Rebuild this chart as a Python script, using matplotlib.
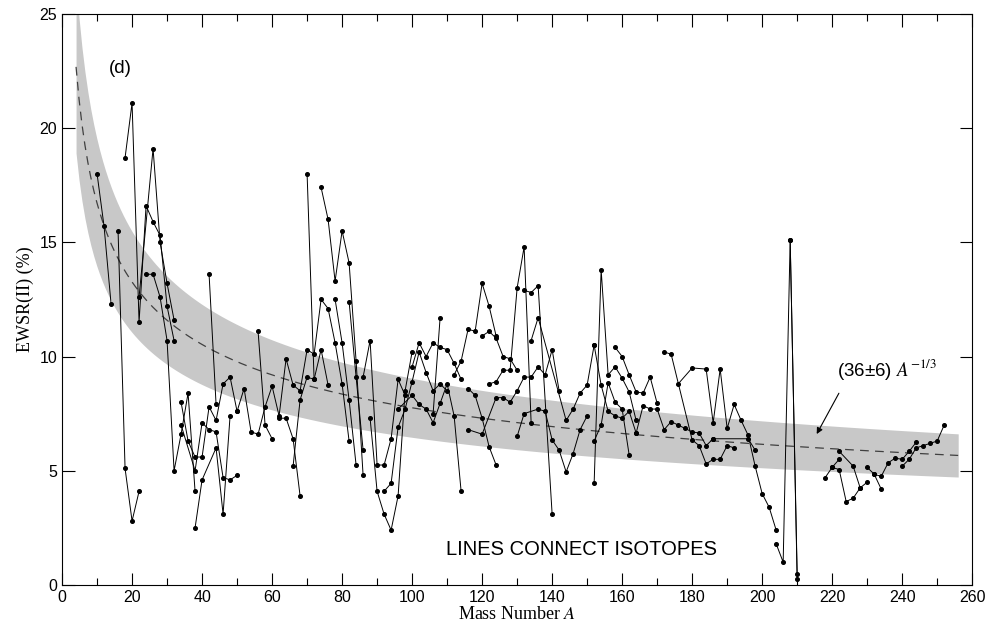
import numpy as np
from matplotlib import pyplot as plt

plt.rcParams["mathtext.fontset"] = "stix"

# isotope chains: mass numbers and EWSR(II) values (%)
chains = [
    ([10, 12, 14], [18.0, 15.7, 12.3]),
    ([16, 18, 20, 22], [15.5, 5.1, 2.8, 4.1]),
    ([18, 20, 22, 24, 26, 28, 30, 32], [18.7, 21.1, 11.5, 16.6, 15.9, 15.3, 12.2, 10.7]),
    ([22, 26, 28, 30, 32], [12.6, 19.1, 15.0, 13.2, 11.6]),
    ([24, 26, 28, 30, 32, 34, 36, 38], [13.6, 13.6, 12.6, 10.7, 5.0, 6.6, 8.4, 4.1]),
    ([34, 36, 38, 40, 42, 44, 46, 48, 50], [8.0, 6.3, 5.6, 5.6, 7.8, 7.2, 8.8, 9.1, 7.6]),
    ([34, 38, 40, 42, 44, 46, 48, 50], [7.0, 5.0, 7.1, 6.8, 6.7, 4.7, 4.6, 4.8]),
    ([38, 40, 44, 46, 48], [2.5, 4.6, 6.0, 3.1, 7.4]),
    ([42, 44], [13.6, 7.9]),
    ([50, 52, 54, 56, 58, 60, 62, 64, 66, 68, 70, 72, 74, 76, 78, 80, 82],
     [7.6, 8.6, 6.7, 6.6, 7.8, 8.7, 7.4, 9.9, 8.75, 8.5, 10.3, 10.1, 12.5, 12.1, 10.6, 8.8, 6.3]),
    ([56, 58, 60], [11.1, 7.0, 6.4]),
    ([62, 64, 66, 68], [7.3, 7.3, 6.4, 3.9]),
    ([66, 68, 70, 72, 74, 76], [5.2, 8.1, 9.1, 9.0, 10.3, 8.75]),
    ([70, 72], [18.0, 9.0]),
    ([74, 76, 78, 80, 82, 84, 86], [17.4, 16.0, 13.3, 15.5, 14.1, 9.8, 4.8]),
    ([78, 80, 82, 84], [12.5, 10.6, 8.1, 5.25]),
    ([82, 84, 86], [12.4, 9.1, 5.9]),
    ([86, 88, 90, 92, 94, 96, 98], [9.1, 10.7, 5.25, 5.25, 6.4, 9.0, 8.3]),
    ([88, 90, 92, 94, 96, 98, 100], [7.3, 4.1, 3.1, 2.4, 3.9, 8.5, 10.2]),
    ([92, 94, 96, 98, 100, 102, 104, 106, 108, 110],
     [4.1, 4.45, 6.9, 7.7, 8.9, 10.2, 9.3, 8.5, 8.8, 8.5]),
    ([96, 100, 102, 104, 106, 108, 110, 112, 114],
     [7.7, 8.3, 7.9, 7.7, 7.1, 7.95, 8.8, 7.4, 4.1]),
    ([100, 102, 104, 106, 108, 110, 112, 114], [9.55, 10.6, 10.0, 10.6, 10.4, 10.3, 9.7, 9.0]),
    ([106, 108], [7.5, 11.7]),
    ([112, 114, 116, 118, 120, 122, 124], [9.2, 9.8, 11.2, 11.1, 13.2, 12.2, 10.9]),
    ([116, 118, 120, 122, 124], [8.6, 8.3, 7.3, 6.05, 5.25]),
    ([120, 122, 124, 126, 128, 130], [10.9, 11.1, 10.8, 10.0, 9.9, 9.4]),
    ([116, 120, 124, 126, 128, 130, 132, 134, 136, 138, 140, 142],
     [6.8, 6.6, 8.2, 8.2, 8.0, 8.5, 9.1, 9.1, 9.55, 9.2, 10.3, 8.5]),
    ([122, 124, 126, 128, 130, 132, 134], [8.8, 8.9, 9.4, 9.4, 13.0, 14.8, 7.1]),
    ([132, 134, 136, 140], [12.9, 12.8, 13.1, 3.1]),
    ([130, 132, 136, 138, 140, 142, 144, 146, 148, 150],
     [6.5, 7.5, 7.7, 7.6, 6.35, 5.9, 4.95, 5.75, 6.8, 7.4]),
    ([134, 136, 144, 146, 148, 150, 152], [10.7, 11.7, 7.2, 7.7, 8.4, 8.75, 10.5]),
    ([152, 154, 156, 158, 160, 162, 164], [4.45, 13.8, 9.2, 9.55, 9.05, 8.45, 7.2]),
    ([152, 154, 156, 158, 160, 162, 164], [10.5, 8.75, 7.6, 7.4, 7.3, 7.6, 6.65]),
    ([152, 154, 156, 158, 160, 162], [6.3, 7.0, 8.85, 8.0, 7.7, 5.7]),
    ([158, 160, 162, 164, 166, 168, 170], [10.4, 10.0, 9.2, 8.45, 8.4, 9.1, 7.95]),
    ([164, 166, 168, 170, 172, 174, 176, 178, 180, 182, 184, 186],
     [6.65, 7.85, 7.7, 7.7, 6.8, 7.15, 7.0, 6.85, 6.7, 6.65, 6.1, 6.4]),
    ([172, 174, 180, 182, 184, 186, 188, 190, 192],
     [10.2, 10.1, 6.35, 6.1, 5.3, 5.5, 5.5, 6.1, 6.0]),
    ([176, 180, 184, 186, 188, 190, 192, 194, 196, 198, 200, 202, 204],
     [8.8, 9.5, 9.45, 7.1, 9.45, 6.85, 7.9, 7.2, 6.55, 5.2, 4.0, 3.4, 2.4]),
    ([186, 196, 198], [6.4, 6.4, 5.9]),
    ([204, 206, 208, 210], [1.8, 1.0, 15.1, 0.5]),
    ([208, 210], [15.1, 0.25]),
    ([218, 220, 222, 224, 226, 228], [4.7, 5.15, 5.05, 3.65, 3.8, 4.25]),
    ([220, 222], [5.15, 5.5]),
    ([222, 226, 228, 230], [5.85, 5.2, 4.25, 4.5]),
    ([230, 232, 234], [5.15, 4.85, 4.2]),
    ([232, 234, 236, 238, 240, 242, 244], [4.85, 4.75, 5.35, 5.55, 5.5, 5.85, 6.25]),
    ([240, 242, 244, 246, 248, 250, 252], [5.2, 5.5, 6.0, 6.1, 6.2, 6.3, 7.0]),
]

A_fit = np.linspace(4, 256, 300)
coef, dcoef = 36, 6

plt.figure(figsize=(9.85, 6.29), dpi=100)
ax = plt.axes([0.063, 0.07, 0.924, 0.908])

ax.fill_between(A_fit, (coef - dcoef) * A_fit**(-1/3), (coef + dcoef) * A_fit**(-1/3),
                color="#c8c8c8", lw=0, zorder=1)
ax.plot(A_fit, coef * A_fit**(-1/3), ls=(0, (7, 5)), color="#404040", lw=0.9, zorder=2)

for a, v in chains:
    ax.plot(a, v, "-", color="black", lw=0.7, marker="o", ms=2.6, zorder=3)

sans = ["Liberation Sans", "DejaVu Sans"]
ax.text(16.7, 22.6, "(d)", fontsize=13.5, family=sans, ha="center", va="center")
ax.text(148.5, 1.55, "LINES CONNECT ISOTOPES", fontsize=14.5, family=sans,
        ha="center", va="center")
ax.text(221.5, 9.45, "(36\u00b16) $\\mathit{A}^{-1/3}$", fontsize=13.5, family=sans,
        ha="left", va="center")
ax.annotate("", xy=(215.2, 6.5), xytext=(222.3, 8.5),
            arrowprops=dict(arrowstyle="-|>", color="black", lw=0.8, mutation_scale=9))

ax.set_xlim(0, 260)
ax.set_ylim(0, 25)
ax.set_xticks(np.arange(0, 261, 20))
ax.set_xticks(np.arange(10, 260, 20), minor=True)
ax.set_yticks(np.arange(0, 26, 5))
ax.tick_params(which="both", direction="in", top=True, right=True)
ax.tick_params(which="major", length=9, width=0.8)
ax.tick_params(which="minor", length=5, width=0.8)
for lab in ax.get_xticklabels() + ax.get_yticklabels():
    lab.set_family(["Liberation Sans Narrow", "Liberation Sans", "DejaVu Sans"])
    lab.set_fontsize(11.5)
ax.set_xlabel("Mass Number $\\mathit{A}$", family="Liberation Serif", fontsize=13, labelpad=1)
ax.set_ylabel("EWSR(II) (%)", family="Liberation Serif", fontsize=13, labelpad=4)

plt.savefig("out.png", dpi=100)
